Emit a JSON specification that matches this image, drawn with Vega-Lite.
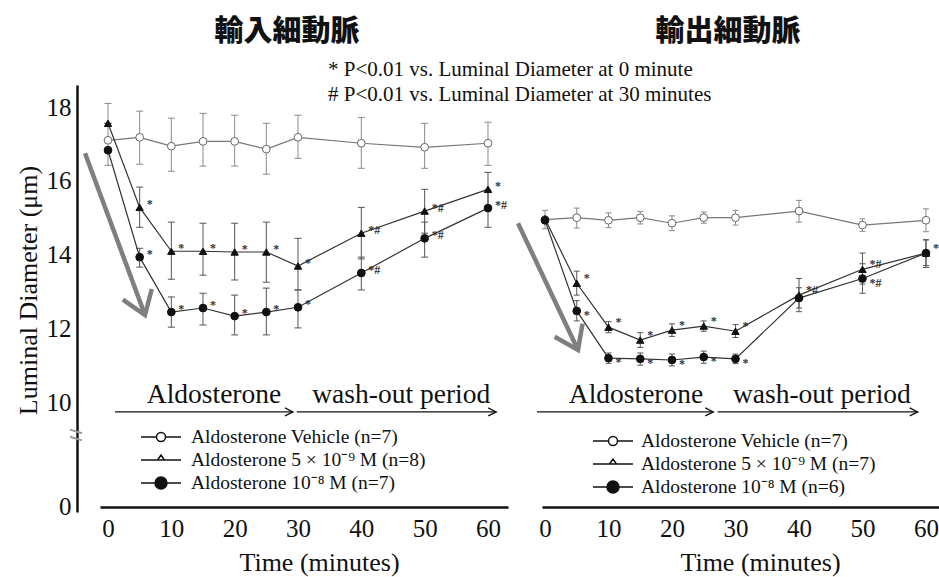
{
  "$schema": "https://vega.github.io/schema/vega-lite/v6.json",
  "width": 862,
  "height": 507,
  "autosize": {"type": "none"},
  "padding": {"left": 77, "top": 0, "right": 0, "bottom": 70},
  "background": "white",
  "config": {"view": {"stroke": null}, "font": "Liberation Serif"},
  "datasets": {
    "aff": [
      {"t": 0, "s": "veh", "v": 17.1, "lo": 16.42, "hi": 18.1, "sig": ""},
      {"t": 5, "s": "veh", "v": 17.18, "lo": 16.45, "hi": 17.89, "sig": ""},
      {"t": 10, "s": "veh", "v": 16.94, "lo": 16.26, "hi": 17.7, "sig": ""},
      {"t": 15, "s": "veh", "v": 17.07, "lo": 16.4, "hi": 17.83, "sig": ""},
      {"t": 20, "s": "veh", "v": 17.07, "lo": 16.4, "hi": 17.78, "sig": ""},
      {"t": 25, "s": "veh", "v": 16.86, "lo": 16.18, "hi": 17.56, "sig": ""},
      {"t": 30, "s": "veh", "v": 17.18, "lo": 16.61, "hi": 17.78, "sig": ""},
      {"t": 40, "s": "veh", "v": 17.02, "lo": 16.34, "hi": 17.72, "sig": ""},
      {"t": 50, "s": "veh", "v": 16.91, "lo": 16.34, "hi": 17.56, "sig": ""},
      {"t": 60, "s": "veh", "v": 17.02, "lo": 16.42, "hi": 17.59, "sig": ""},
      {"t": 0, "s": "low", "v": 17.56, "lo": 17.56, "hi": 17.56, "sig": ""},
      {"t": 5, "s": "low", "v": 15.28, "lo": 14.74, "hi": 15.83, "sig": "*"},
      {"t": 10, "s": "low", "v": 14.09, "lo": 13.33, "hi": 14.88, "sig": "*"},
      {"t": 15, "s": "low", "v": 14.09, "lo": 13.44, "hi": 14.85, "sig": "*"},
      {"t": 20, "s": "low", "v": 14.07, "lo": 13.31, "hi": 14.85, "sig": "*"},
      {"t": 25, "s": "low", "v": 14.07, "lo": 13.25, "hi": 14.88, "sig": "*"},
      {"t": 30, "s": "low", "v": 13.69, "lo": 13.04, "hi": 14.44, "sig": "*"},
      {"t": 40, "s": "low", "v": 14.58, "lo": 13.88, "hi": 15.28, "sig": "*#"},
      {"t": 50, "s": "low", "v": 15.18, "lo": 14.58, "hi": 15.77, "sig": "*#"},
      {"t": 60, "s": "low", "v": 15.77, "lo": 15.31, "hi": 16.23, "sig": "*"},
      {"t": 0, "s": "high", "v": 16.83, "lo": 16.83, "hi": 16.83, "sig": ""},
      {"t": 5, "s": "high", "v": 13.93, "lo": 13.66, "hi": 14.17, "sig": "*"},
      {"t": 10, "s": "high", "v": 12.44, "lo": 12.03, "hi": 12.85, "sig": "*"},
      {"t": 15, "s": "high", "v": 12.55, "lo": 12.09, "hi": 12.95, "sig": "*"},
      {"t": 20, "s": "high", "v": 12.33, "lo": 11.82, "hi": 12.9, "sig": "*"},
      {"t": 25, "s": "high", "v": 12.44, "lo": 11.82, "hi": 13.09, "sig": "*"},
      {"t": 30, "s": "high", "v": 12.57, "lo": 12.01, "hi": 13.04, "sig": "*"},
      {"t": 40, "s": "high", "v": 13.5, "lo": 13.04, "hi": 13.93, "sig": "*#"},
      {"t": 50, "s": "high", "v": 14.44, "lo": 13.93, "hi": 14.88, "sig": "*#"},
      {"t": 60, "s": "high", "v": 15.26, "lo": 14.74, "hi": 15.75, "sig": "*#"}
    ],
    "eff": [
      {"t": 0, "s": "veh", "v": 14.95, "lo": 14.7, "hi": 15.2, "sig": ""},
      {"t": 5, "s": "veh", "v": 15.0, "lo": 14.72, "hi": 15.26, "sig": ""},
      {"t": 10, "s": "veh", "v": 14.93, "lo": 14.73, "hi": 15.13, "sig": ""},
      {"t": 15, "s": "veh", "v": 15.0, "lo": 14.83, "hi": 15.17, "sig": ""},
      {"t": 20, "s": "veh", "v": 14.85, "lo": 14.65, "hi": 15.05, "sig": ""},
      {"t": 25, "s": "veh", "v": 15.0, "lo": 14.85, "hi": 15.15, "sig": ""},
      {"t": 30, "s": "veh", "v": 15.0, "lo": 14.8, "hi": 15.2, "sig": ""},
      {"t": 40, "s": "veh", "v": 15.18, "lo": 14.88, "hi": 15.47, "sig": ""},
      {"t": 50, "s": "veh", "v": 14.8, "lo": 14.63, "hi": 14.97, "sig": ""},
      {"t": 60, "s": "veh", "v": 14.93, "lo": 14.62, "hi": 15.24, "sig": ""},
      {"t": 0, "s": "low", "v": 14.97, "lo": 14.97, "hi": 14.97, "sig": ""},
      {"t": 5, "s": "low", "v": 13.22, "lo": 12.9, "hi": 13.55, "sig": "*"},
      {"t": 10, "s": "low", "v": 12.03, "lo": 11.88, "hi": 12.18, "sig": "*"},
      {"t": 15, "s": "low", "v": 11.68, "lo": 11.48, "hi": 11.88, "sig": "*"},
      {"t": 20, "s": "low", "v": 11.95, "lo": 11.78, "hi": 12.12, "sig": "*"},
      {"t": 25, "s": "low", "v": 12.06, "lo": 11.92, "hi": 12.2, "sig": "*"},
      {"t": 30, "s": "low", "v": 11.92, "lo": 11.75, "hi": 12.1, "sig": "*"},
      {"t": 40, "s": "low", "v": 12.9, "lo": 12.45, "hi": 13.35, "sig": "*#"},
      {"t": 50, "s": "low", "v": 13.6, "lo": 13.2, "hi": 14.04, "sig": "*#"},
      {"t": 60, "s": "low", "v": 14.04, "lo": 13.7, "hi": 14.4, "sig": "*"},
      {"t": 0, "s": "high", "v": 14.93, "lo": 14.93, "hi": 14.93, "sig": ""},
      {"t": 5, "s": "high", "v": 12.47, "lo": 12.2, "hi": 12.75, "sig": "*"},
      {"t": 10, "s": "high", "v": 11.19, "lo": 11.05, "hi": 11.33, "sig": "*"},
      {"t": 15, "s": "high", "v": 11.17, "lo": 11.0, "hi": 11.33, "sig": "*"},
      {"t": 20, "s": "high", "v": 11.14, "lo": 10.98, "hi": 11.3, "sig": "*"},
      {"t": 25, "s": "high", "v": 11.22, "lo": 11.05, "hi": 11.38, "sig": "*"},
      {"t": 30, "s": "high", "v": 11.17, "lo": 11.04, "hi": 11.3, "sig": "*"},
      {"t": 40, "s": "high", "v": 12.82, "lo": 12.55, "hi": 13.1, "sig": ""},
      {"t": 50, "s": "high", "v": 13.35, "lo": 12.95, "hi": 13.75, "sig": "*#"},
      {"t": 60, "s": "high", "v": 14.04, "lo": 13.65, "hi": 14.4, "sig": ""}
    ]
  },
  "layer": [
    {
      "data": {"name": "aff"},
      "layer": [
        {
          "transform": [{"filter": "datum.t < -100"}],
          "mark": {"type": "point", "filled": true, "stroke": "#111", "strokeWidth": 1.3, "size": 400, "opacity": 1},
          "encoding": {
            "x": {"field": "t", "type": "quantitative", "scale": {"domain": [-1.263, 63.16], "range": [23, 431], "nice": false, "zero": false}},
            "y": {"field": "v", "type": "quantitative", "scale": {"domain": [-0.5, 10, 18.6], "range": [512, 402, 85], "nice": false, "zero": false}},
            "shape": {"field": "s", "type": "nominal", "scale": {"domain": ["veh", "low", "high"], "range": ["M-2,0H-0.45M0.45,0H2M-0.45,0A0.45,0.45,0,1,1,0.45,0A0.45,0.45,0,1,1,-0.45,0Z", "M-2,0H2M-0.35,0L0,-0.5L0.35,0Z", "M-2,0H-0.6M0.6,0H2M-0.6,0A0.6,0.6,0,1,1,0.6,0A0.6,0.6,0,1,1,-0.6,0Z"]},
              "legend": {"title": null, "orient": "none", "legendX": 73, "legendY": 426, "padding": 0, "rowPadding": 2, "labelFont": "Liberation Serif", "labelFontSize": 19.5, "labelColor": "#111", "labelOffset": 19, "labelLimit": 400, "symbolSize": 400, "encode": {"symbols": {"update": {"stroke": {"value": "#111"}, "strokeWidth": {"value": 1.3}}}}, "labelExpr": "datum.label == 'veh' ? 'Aldosterone Vehicle (n=7)' : datum.label == 'low' ? 'Aldosterone 5 × 10⁻⁹ M (n=8)' : 'Aldosterone 10⁻⁸ M (n=7)'"}},
            "fill": {"field": "s", "type": "nominal", "scale": {"domain": ["veh", "low", "high"], "range": ["white", "white", "#111"]},
              "legend": {"title": null, "orient": "none", "legendX": 73, "legendY": 426, "padding": 0, "rowPadding": 2, "labelFont": "Liberation Serif", "labelFontSize": 19.5, "labelColor": "#111", "labelOffset": 19, "labelLimit": 400, "symbolSize": 400, "encode": {"symbols": {"update": {"stroke": {"value": "#111"}, "strokeWidth": {"value": 1.3}}}}, "labelExpr": "datum.label == 'veh' ? 'Aldosterone Vehicle (n=7)' : datum.label == 'low' ? 'Aldosterone 5 × 10⁻⁹ M (n=8)' : 'Aldosterone 10⁻⁸ M (n=7)'"}}
          }
        },
        {
          "mark": {"type": "rule", "strokeWidth": 1},
          "encoding": {
            "x": {"field": "t", "type": "quantitative", "scale": {"domain": [-1.263, 63.16], "range": [23, 431], "nice": false, "zero": false}},
            "y": {"field": "lo", "type": "quantitative", "scale": {"domain": [-0.5, 10, 18.6], "range": [512, 402, 85], "nice": false, "zero": false}},
            "y2": {"field": "hi"},
            "stroke": {"condition": {"test": "datum.s === 'veh'", "value": "#8a8a8a"}, "value": "#555"}
          }
        },
        {
          "mark": {"type": "point", "shape": "stroke", "size": 49, "strokeWidth": 1, "opacity": 1},
          "encoding": {
            "x": {"field": "t", "type": "quantitative", "scale": {"domain": [-1.263, 63.16], "range": [23, 431], "nice": false, "zero": false}},
            "y": {"field": "lo", "type": "quantitative", "scale": {"domain": [-0.5, 10, 18.6], "range": [512, 402, 85], "nice": false, "zero": false}},
            "stroke": {"condition": {"test": "datum.s === 'veh'", "value": "#8a8a8a"}, "value": "#555"}
          }
        },
        {
          "mark": {"type": "point", "shape": "stroke", "size": 49, "strokeWidth": 1, "opacity": 1},
          "encoding": {
            "x": {"field": "t", "type": "quantitative", "scale": {"domain": [-1.263, 63.16], "range": [23, 431], "nice": false, "zero": false}},
            "y": {"field": "hi", "type": "quantitative", "scale": {"domain": [-0.5, 10, 18.6], "range": [512, 402, 85], "nice": false, "zero": false}},
            "stroke": {"condition": {"test": "datum.s === 'veh'", "value": "#8a8a8a"}, "value": "#555"}
          }
        },
        {
          "mark": {"type": "line", "strokeWidth": 1.2},
          "encoding": {
            "x": {"field": "t", "type": "quantitative", "scale": {"domain": [-1.263, 63.16], "range": [23, 431], "nice": false, "zero": false},
              "axis": {"orient": "bottom", "values": [0, 10, 20, 30, 40, 50, 60], "offset": 0, "ticks": false, "grid": false, "domainColor": "#111", "domainWidth": 2.5, "labelFont": "Liberation Serif", "labelFontSize": 25, "labelColor": "#111", "labelPadding": 9, "title": "Time (minutes)", "titleFont": "Liberation Serif", "titleFontSize": 26, "titleFontWeight": "normal", "titleColor": "#111", "titleX": 242, "titleY": 55, "titleAlign": "center", "titleBaseline": "middle"}},
            "y": {"field": "v", "type": "quantitative", "scale": {"domain": [-0.5, 10, 18.6], "range": [512, 402, 85], "nice": false, "zero": false},
              "axis": {"orient": "left", "values": [0, 10, 12, 14, 16, 18], "offset": 0, "ticks": false, "grid": false, "domainColor": "#111", "domainWidth": 2.5, "labelFont": "Liberation Serif", "labelFontSize": 25, "labelColor": "#111", "labelPadding": 6, "title": "Luminal Diameter (μm)", "titleFont": "Liberation Serif", "titleFontSize": 26, "titleFontWeight": "normal", "titleColor": "#111", "titleAngle": -90, "titleX": -49, "titleY": 290, "titleAlign": "center", "titleBaseline": "middle"}},
            "detail": {"field": "s"},
            "stroke": {"condition": {"test": "datum.s === 'veh'", "value": "#777"}, "value": "#333"}
          }
        },
        {
          "mark": {"type": "point", "filled": true, "strokeWidth": 1, "opacity": 1},
          "encoding": {
            "x": {"field": "t", "type": "quantitative", "scale": {"domain": [-1.263, 63.16], "range": [23, 431], "nice": false, "zero": false}},
            "y": {"field": "v", "type": "quantitative", "scale": {"domain": [-0.5, 10, 18.6], "range": [512, 402, 85], "nice": false, "zero": false}},
            "shape": {"condition": {"test": "datum.s === 'low'", "value": "triangle-up"}, "value": "circle"},
            "fill": {"condition": {"test": "datum.s === 'veh'", "value": "white"}, "value": "#111"},
            "stroke": {"condition": {"test": "datum.s === 'veh'", "value": "#666"}, "value": "#111"},
            "size": {"condition": {"test": "datum.s === 'low'", "value": 55}, "value": 60}
          }
        },
        {
          "mark": {"type": "text", "align": "left", "baseline": "middle", "dx": 7, "dy": -3, "fontSize": 12, "fontWeight": "bold", "font": "Liberation Serif", "fill": "#333"},
          "encoding": {
            "x": {"field": "t", "type": "quantitative", "scale": {"domain": [-1.263, 63.16], "range": [23, 431], "nice": false, "zero": false}},
            "y": {"field": "v", "type": "quantitative", "scale": {"domain": [-0.5, 10, 18.6], "range": [512, 402, 85], "nice": false, "zero": false}},
            "text": {"field": "sig"}
          }
        },
        {
          "data": {"values": [{"a": 1}]},
          "mark": {"type": "rule", "stroke": "#7f7f7f", "strokeWidth": 4.5},
          "encoding": {
            "x": {"datum": -3.63, "type": "quantitative"},
            "y": {"datum": 16.75, "type": "quantitative"},
            "x2": {"datum": 5.84},
            "y2": {"datum": 12.36}
          }
        },
        {
          "data": {"values": [{"a": 1}]},
          "mark": {"type": "point", "shape": "M-1,-0.7L0,0L-1,0.7", "size": 1936, "angle": 69.7, "filled": false, "stroke": "#7f7f7f", "strokeWidth": 4.5, "strokeJoin": "miter", "opacity": 1},
          "encoding": {
            "x": {"datum": 5.84, "type": "quantitative"},
            "y": {"datum": 12.36, "type": "quantitative"}
          }
        },
        {
          "data": {"values": [{"a": 1}]},
          "mark": {"type": "rule", "stroke": "#111", "strokeWidth": 1.3},
          "encoding": {
            "x": {"datum": 1.1, "type": "quantitative"},
            "x2": {"datum": 29.2},
            "y": {"datum": 9.05, "type": "quantitative"}
          }
        },
        {
          "data": {"values": [{"a": 1}]},
          "mark": {"type": "rule", "stroke": "#111", "strokeWidth": 1.3},
          "encoding": {
            "x": {"datum": 29.8, "type": "quantitative"},
            "x2": {"datum": 61.3},
            "y": {"datum": 9.05, "type": "quantitative"}
          }
        },
        {
          "data": {"values": [{"a": 1}]},
          "mark": {"type": "point", "shape": "M-2,-1L0,0L-2,1", "size": 64, "filled": false, "stroke": "#111", "strokeWidth": 1.3, "opacity": 1},
          "encoding": {
            "x": {"datum": 29.2, "type": "quantitative"},
            "y": {"datum": 9.05, "type": "quantitative"}
          }
        },
        {
          "data": {"values": [{"a": 1}]},
          "mark": {"type": "point", "shape": "M-2,-1L0,0L-2,1", "size": 64, "filled": false, "stroke": "#111", "strokeWidth": 1.3, "opacity": 1},
          "encoding": {
            "x": {"datum": 61.3, "type": "quantitative"},
            "y": {"datum": 9.05, "type": "quantitative"}
          }
        },
        {
          "data": {"values": [{"a": 1}]},
          "mark": {"type": "text", "align": "center", "baseline": "middle", "font": "Liberation Serif", "fontSize": 27.5, "fill": "#111", "text": "Aldosterone"},
          "encoding": {
            "x": {"datum": 16.74, "type": "quantitative"},
            "y": {"datum": 10.19, "type": "quantitative"}
          }
        },
        {
          "data": {"values": [{"a": 1}]},
          "mark": {"type": "text", "align": "center", "baseline": "middle", "font": "Liberation Serif", "fontSize": 27.5, "fill": "#111", "text": "wash-out period"},
          "encoding": {
            "x": {"datum": 46.3, "type": "quantitative"},
            "y": {"datum": 10.19, "type": "quantitative"}
          }
        },
        {
          "data": {"values": [{"a": 1}]},
          "mark": {"type": "text", "align": "center", "baseline": "middle", "font": "Noto Sans CJK JP", "fontSize": 29, "fontWeight": 900, "fill": "#111", "text": "輸入細動脈"},
          "encoding": {
            "x": {"datum": 28.26, "type": "quantitative"},
            "y": {"datum": 20.05, "type": "quantitative"}
          }
        },
        {
          "data": {"values": [{"a": 1}]},
          "mark": {"type": "text", "align": "left", "baseline": "middle", "font": "Liberation Serif", "fontSize": 21, "fill": "#111", "text": "* P<0.01 vs. Luminal Diameter at 0 minute"},
          "encoding": {
            "x": {"datum": 34.74, "type": "quantitative"},
            "y": {"datum": 19.0, "type": "quantitative"}
          }
        },
        {
          "data": {"values": [{"a": 1}]},
          "mark": {"type": "text", "align": "left", "baseline": "middle", "font": "Liberation Serif", "fontSize": 21, "fill": "#111", "text": "# P<0.01 vs. Luminal Diameter at 30 minutes"},
          "encoding": {
            "x": {"datum": 34.74, "type": "quantitative"},
            "y": {"datum": 18.32, "type": "quantitative"}
          }
        },
        {
          "data": {"values": [{"a": 1}]},
          "mark": {"type": "point", "shape": "M-1,-0.9L1,-0.3M-1,0.3L1,0.9", "size": 144, "filled": false, "stroke": "#999", "strokeWidth": 2, "opacity": 1},
          "encoding": {
            "x": {"datum": -5.05, "type": "quantitative"},
            "y": {"datum": 6.85, "type": "quantitative"}
          }
        }
      ]
    },
    {
      "data": {"name": "eff"},
      "layer": [
        {
          "transform": [{"filter": "datum.t < -100"}],
          "mark": {"type": "point", "filled": true, "stroke": "#111", "strokeWidth": 1.3, "size": 400, "opacity": 1},
          "encoding": {
            "x": {"field": "t", "type": "quantitative", "scale": {"domain": [-0.472, 62.05], "range": [465, 862], "nice": false, "zero": false}},
            "y": {"field": "v", "type": "quantitative", "scale": {"domain": [-0.5, 10, 18.6], "range": [512, 402, 85], "nice": false, "zero": false}},
            "shape": {"field": "s", "type": "nominal", "scale": {"domain": ["veh", "low", "high"], "range": ["M-2,0H-0.45M0.45,0H2M-0.45,0A0.45,0.45,0,1,1,0.45,0A0.45,0.45,0,1,1,-0.45,0Z", "M-2,0H2M-0.35,0L0,-0.5L0.35,0Z", "M-2,0H-0.6M0.6,0H2M-0.6,0A0.6,0.6,0,1,1,0.6,0A0.6,0.6,0,1,1,-0.6,0Z"]},
              "legend": {"title": null, "orient": "none", "legendX": 525, "legendY": 430, "padding": 0, "rowPadding": 2, "labelFont": "Liberation Serif", "labelFontSize": 19.5, "labelColor": "#111", "labelOffset": 17, "labelLimit": 400, "symbolSize": 400, "encode": {"symbols": {"update": {"stroke": {"value": "#111"}, "strokeWidth": {"value": 1.3}}}}, "labelExpr": "datum.label == 'veh' ? 'Aldosterone Vehicle (n=7)' : datum.label == 'low' ? 'Aldosterone 5 × 10⁻⁹ M (n=7)' : 'Aldosterone 10⁻⁸ M (n=6)'"}},
            "fill": {"field": "s", "type": "nominal", "scale": {"domain": ["veh", "low", "high"], "range": ["white", "white", "#111"]},
              "legend": {"title": null, "orient": "none", "legendX": 525, "legendY": 430, "padding": 0, "rowPadding": 2, "labelFont": "Liberation Serif", "labelFontSize": 19.5, "labelColor": "#111", "labelOffset": 17, "labelLimit": 400, "symbolSize": 400, "encode": {"symbols": {"update": {"stroke": {"value": "#111"}, "strokeWidth": {"value": 1.3}}}}, "labelExpr": "datum.label == 'veh' ? 'Aldosterone Vehicle (n=7)' : datum.label == 'low' ? 'Aldosterone 5 × 10⁻⁹ M (n=7)' : 'Aldosterone 10⁻⁸ M (n=6)'"}}
          }
        },
        {
          "mark": {"type": "rule", "strokeWidth": 1},
          "encoding": {
            "x": {"field": "t", "type": "quantitative", "scale": {"domain": [-0.472, 62.05], "range": [465, 862], "nice": false, "zero": false}},
            "y": {"field": "lo", "type": "quantitative", "scale": {"domain": [-0.5, 10, 18.6], "range": [512, 402, 85], "nice": false, "zero": false}},
            "y2": {"field": "hi"},
            "stroke": {"condition": {"test": "datum.s === 'veh'", "value": "#8a8a8a"}, "value": "#555"}
          }
        },
        {
          "mark": {"type": "point", "shape": "stroke", "size": 36, "strokeWidth": 1, "opacity": 1},
          "encoding": {
            "x": {"field": "t", "type": "quantitative", "scale": {"domain": [-0.472, 62.05], "range": [465, 862], "nice": false, "zero": false}},
            "y": {"field": "lo", "type": "quantitative", "scale": {"domain": [-0.5, 10, 18.6], "range": [512, 402, 85], "nice": false, "zero": false}},
            "stroke": {"condition": {"test": "datum.s === 'veh'", "value": "#8a8a8a"}, "value": "#555"}
          }
        },
        {
          "mark": {"type": "point", "shape": "stroke", "size": 36, "strokeWidth": 1, "opacity": 1},
          "encoding": {
            "x": {"field": "t", "type": "quantitative", "scale": {"domain": [-0.472, 62.05], "range": [465, 862], "nice": false, "zero": false}},
            "y": {"field": "hi", "type": "quantitative", "scale": {"domain": [-0.5, 10, 18.6], "range": [512, 402, 85], "nice": false, "zero": false}},
            "stroke": {"condition": {"test": "datum.s === 'veh'", "value": "#8a8a8a"}, "value": "#555"}
          }
        },
        {
          "mark": {"type": "line", "strokeWidth": 1.2},
          "encoding": {
            "x": {"field": "t", "type": "quantitative", "scale": {"domain": [-0.472, 62.05], "range": [465, 862], "nice": false, "zero": false},
              "axis": {"orient": "bottom", "values": [0, 10, 20, 30, 40, 50, 60], "offset": 0, "ticks": false, "grid": false, "domainColor": "#111", "domainWidth": 2.5, "labelFont": "Liberation Serif", "labelFontSize": 25, "labelColor": "#111", "labelPadding": 9, "title": "Time (minutes)", "titleFont": "Liberation Serif", "titleFontSize": 26, "titleFontWeight": "normal", "titleColor": "#111", "titleX": 683, "titleY": 55, "titleAlign": "center", "titleBaseline": "middle"}},
            "y": {"field": "v", "type": "quantitative", "scale": {"domain": [-0.5, 10, 18.6], "range": [512, 402, 85], "nice": false, "zero": false}},
            "detail": {"field": "s"},
            "stroke": {"condition": {"test": "datum.s === 'veh'", "value": "#777"}, "value": "#333"}
          }
        },
        {
          "mark": {"type": "point", "filled": true, "strokeWidth": 1, "opacity": 1},
          "encoding": {
            "x": {"field": "t", "type": "quantitative", "scale": {"domain": [-0.472, 62.05], "range": [465, 862], "nice": false, "zero": false}},
            "y": {"field": "v", "type": "quantitative", "scale": {"domain": [-0.5, 10, 18.6], "range": [512, 402, 85], "nice": false, "zero": false}},
            "shape": {"condition": {"test": "datum.s === 'low'", "value": "triangle-up"}, "value": "circle"},
            "fill": {"condition": {"test": "datum.s === 'veh'", "value": "white"}, "value": "#111"},
            "stroke": {"condition": {"test": "datum.s === 'veh'", "value": "#666"}, "value": "#111"},
            "size": {"condition": {"test": "datum.s === 'low'", "value": 55}, "value": 60}
          }
        },
        {
          "transform": [{"filter": "datum.s !== 'low'"}],
          "mark": {"type": "text", "align": "left", "baseline": "middle", "dx": 7, "dy": 4, "fontSize": 12, "fontWeight": "bold", "font": "Liberation Serif", "fill": "#333"},
          "encoding": {
            "x": {"field": "t", "type": "quantitative", "scale": {"domain": [-0.472, 62.05], "range": [465, 862], "nice": false, "zero": false}},
            "y": {"field": "v", "type": "quantitative", "scale": {"domain": [-0.5, 10, 18.6], "range": [512, 402, 85], "nice": false, "zero": false}},
            "text": {"field": "sig"}
          }
        },
        {
          "transform": [{"filter": "datum.s === 'low'"}],
          "mark": {"type": "text", "align": "left", "baseline": "middle", "dx": 7, "dy": -5, "fontSize": 12, "fontWeight": "bold", "font": "Liberation Serif", "fill": "#333"},
          "encoding": {
            "x": {"field": "t", "type": "quantitative", "scale": {"domain": [-0.472, 62.05], "range": [465, 862], "nice": false, "zero": false}},
            "y": {"field": "v", "type": "quantitative", "scale": {"domain": [-0.5, 10, 18.6], "range": [512, 402, 85], "nice": false, "zero": false}},
            "text": {"field": "sig"}
          }
        },
        {
          "data": {"values": [{"a": 1}]},
          "mark": {"type": "rule", "stroke": "#7f7f7f", "strokeWidth": 4.5},
          "encoding": {
            "x": {"datum": -4.25, "type": "quantitative"},
            "y": {"datum": 14.85, "type": "quantitative"},
            "x2": {"datum": 5.2},
            "y2": {"datum": 11.41}
          }
        },
        {
          "data": {"values": [{"a": 1}]},
          "mark": {"type": "point", "shape": "M-1,-0.7L0,0L-1,0.7", "size": 1936, "angle": 64.7, "filled": false, "stroke": "#7f7f7f", "strokeWidth": 4.5, "strokeJoin": "miter", "opacity": 1},
          "encoding": {
            "x": {"datum": 5.2, "type": "quantitative"},
            "y": {"datum": 11.41, "type": "quantitative"}
          }
        },
        {
          "data": {"values": [{"a": 1}]},
          "mark": {"type": "rule", "stroke": "#111", "strokeWidth": 1.3},
          "encoding": {
            "x": {"datum": -1.26, "type": "quantitative"},
            "x2": {"datum": 26.5},
            "y": {"datum": 9.05, "type": "quantitative"}
          }
        },
        {
          "data": {"values": [{"a": 1}]},
          "mark": {"type": "rule", "stroke": "#111", "strokeWidth": 1.3},
          "encoding": {
            "x": {"datum": 27.2, "type": "quantitative"},
            "x2": {"datum": 58.7},
            "y": {"datum": 9.05, "type": "quantitative"}
          }
        },
        {
          "data": {"values": [{"a": 1}]},
          "mark": {"type": "point", "shape": "M-2,-1L0,0L-2,1", "size": 64, "filled": false, "stroke": "#111", "strokeWidth": 1.3, "opacity": 1},
          "encoding": {
            "x": {"datum": 26.5, "type": "quantitative"},
            "y": {"datum": 9.05, "type": "quantitative"}
          }
        },
        {
          "data": {"values": [{"a": 1}]},
          "mark": {"type": "point", "shape": "M-2,-1L0,0L-2,1", "size": 64, "filled": false, "stroke": "#111", "strokeWidth": 1.3, "opacity": 1},
          "encoding": {
            "x": {"datum": 58.7, "type": "quantitative"},
            "y": {"datum": 9.05, "type": "quantitative"}
          }
        },
        {
          "data": {"values": [{"a": 1}]},
          "mark": {"type": "text", "align": "center", "baseline": "middle", "font": "Liberation Serif", "fontSize": 27.5, "fill": "#111", "text": "Aldosterone"},
          "encoding": {
            "x": {"datum": 14.33, "type": "quantitative"},
            "y": {"datum": 10.19, "type": "quantitative"}
          }
        },
        {
          "data": {"values": [{"a": 1}]},
          "mark": {"type": "text", "align": "center", "baseline": "middle", "font": "Liberation Serif", "fontSize": 27.5, "fill": "#111", "text": "wash-out period"},
          "encoding": {
            "x": {"datum": 43.6, "type": "quantitative"},
            "y": {"datum": 10.19, "type": "quantitative"}
          }
        },
        {
          "data": {"values": [{"a": 1}]},
          "mark": {"type": "text", "align": "center", "baseline": "middle", "font": "Noto Sans CJK JP", "fontSize": 29, "fontWeight": 900, "fill": "#111", "text": "輸出細動脈"},
          "encoding": {
            "x": {"datum": 28.82, "type": "quantitative"},
            "y": {"datum": 20.05, "type": "quantitative"}
          }
        }
      ]
    }
  ],
  "resolve": {
    "scale": {"x": "independent", "shape": "independent", "fill": "independent"},
    "axis": {"x": "independent"},
    "legend": {"shape": "independent", "fill": "independent"}
  }
}
